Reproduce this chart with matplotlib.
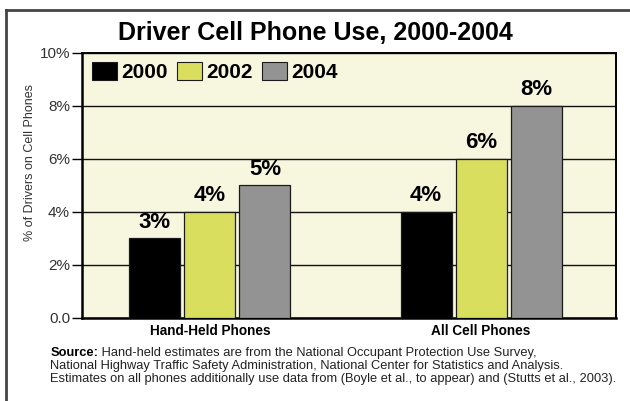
import matplotlib
matplotlib.use("Agg")
import matplotlib.pyplot as plt
import numpy as np
from matplotlib.lines import Line2D
from matplotlib.patches import Patch

plt.rcParams['font.family'] = ['Liberation Sans', 'DejaVu Sans']

# data
categories = ['Hand-Held Phones', 'All Cell Phones']
years = ['2000', '2002', '2004']
values = {
    '2000': [3, 4],
    '2002': [4, 6],
    '2004': [5, 8],
}
bar_colors = ['#000000', '#d9de5e', '#939393']
y_ticks = [0, 2, 4, 6, 8, 10]
y_ticklabels = ['0.0', '2%', '4%', '6%', '8%', '10%']

fig = plt.figure(figsize=(6.30, 4.01), dpi=100)
ax = fig.add_axes([0.130, 0.207, 0.848, 0.661])
ax.set_facecolor('#f7f7e0')

x = np.arange(len(categories))
width = 0.188
step = 0.203
for i, yr in enumerate(years):
    pos = x + (i - 1) * step
    bars = ax.bar(pos, values[yr], width, color=bar_colors[i],
                  edgecolor='#1a1a1a', linewidth=0.9, zorder=3)
    for b, v in zip(bars, values[yr]):
        ax.text(b.get_x() + b.get_width() / 2, v + 0.22, f'{v}%',
                ha='center', va='bottom', fontsize=16, fontweight='bold')

ax.set_xlim(-0.472, 1.498)
ax.set_ylim(0, 10)
ax.set_yticks(y_ticks)
ax.set_yticklabels(y_ticklabels, fontsize=11, color='#333333')
ax.set_xticks(x)
ax.set_xticklabels(categories, fontsize=9.8, fontweight='bold')
ax.tick_params(axis='x', length=0, pad=4)
ax.tick_params(axis='y', length=7, width=1, pad=1.5)
ax.yaxis.grid(True, color='#111111', linewidth=1.0, zorder=0)
ax.set_axisbelow(True)
for side in ['left', 'bottom']:
    ax.spines[side].set_linewidth(1.8)
for side in ['top', 'right']:
    ax.spines[side].set_linewidth(1.4)

ax.set_ylabel('% of Drivers on Cell Phones', fontsize=9, color='#333333',
              va='center')
ax.yaxis.set_label_coords(-0.097, 0.585)

handles = [Patch(facecolor=c, edgecolor='#1a1a1a', linewidth=0.8)
           for c in bar_colors]
ax.legend(handles, years, ncol=3, loc='upper left',
          bbox_to_anchor=(0.019, 0.965), frameon=False, borderpad=0,
          borderaxespad=0, handlelength=1.2, handleheight=0.95,
          handletextpad=0.2, columnspacing=0.45,
          prop={'size': 15, 'weight': 'bold'})

fig.text(0.5, 0.918, 'Driver Cell Phone Use, 2000-2004', ha='center',
         va='center', fontsize=18, fontweight='bold')

# source note
src_size = 9.3
src = fig.text(0.080, 0.112, 'Source:', fontsize=src_size, fontweight='bold',
               va='baseline')
fig.canvas.draw()
ax.annotate(' Hand-held estimates are from the National Occupant Protection Use Survey,',
            xy=(1, 0), xycoords=src, fontsize=src_size, va='bottom',
            ha='left', color='#222222', annotation_clip=False)
fig.text(0.080, 0.080,
         'National Highway Traffic Safety Administration, National Center for Statistics and Analysis.',
         fontsize=src_size, color='#222222', va='baseline')
fig.text(0.080, 0.048,
         'Estimates on all phones additionally use data from (Boyle et al., to appear) and (Stutts et al., 2003).',
         fontsize=src_size, color='#222222', va='baseline')

# outer frame: top and left rules
fig.add_artist(Line2D([6 / 630, 1], [1 - 10 / 401] * 2, color='#444444',
                      linewidth=2))
fig.add_artist(Line2D([6 / 630] * 2, [0, 1 - 10 / 401], color='#444444',
                      linewidth=2))

fig.savefig('out.png', dpi=100)
